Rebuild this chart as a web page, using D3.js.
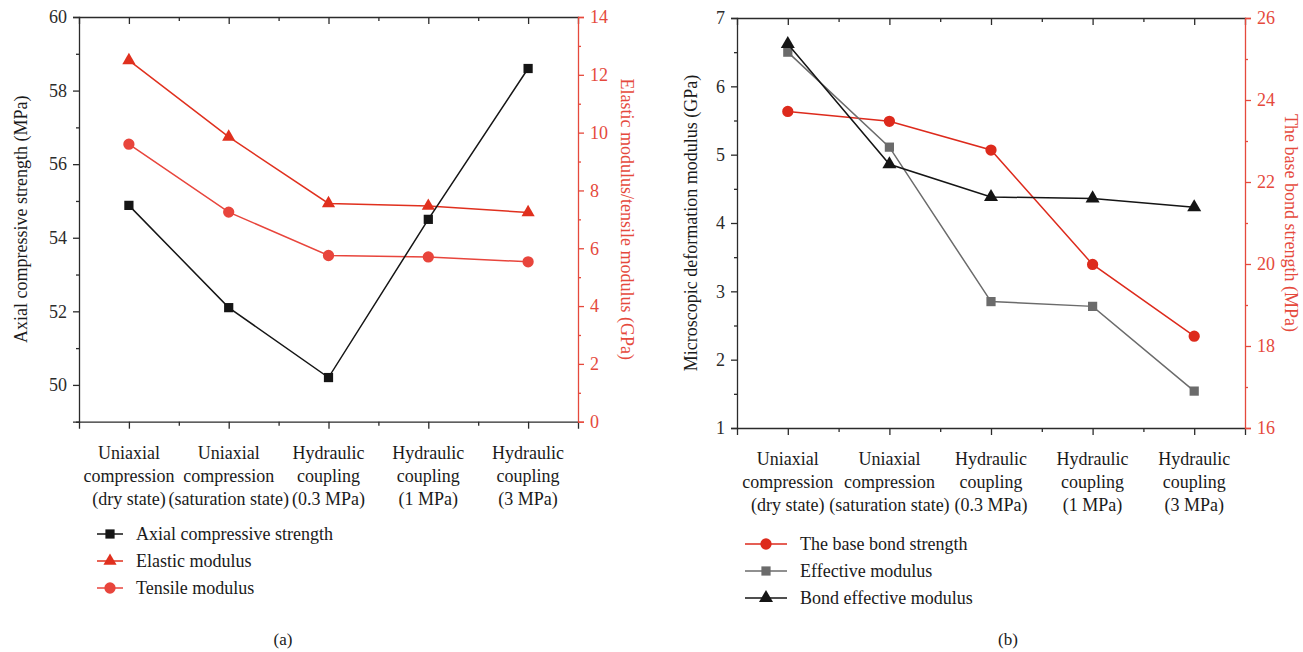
<!DOCTYPE html>
<html>
<head>
<meta charset="utf-8">
<script src="https://cdn.jsdelivr.net/npm/d3@7"></script>
<style>
  body { margin: 0; background: #fff; }
  svg text { font-family: "Liberation Serif", "DejaVu Serif", serif; }
</style>
</head>
<body>
<div id="chart"></div>
<script>
// categories (shared by both panels), one array per label line
var categories = ["dry", "sat", "h03", "h1", "h3"];
var categoryLines = [
  ["Uniaxial", "compression", "(dry state)"],
  ["Uniaxial", "compression", "(saturation state)"],
  ["Hydraulic", "coupling", "(0.3 MPa)"],
  ["Hydraulic", "coupling", "(1 MPa)"],
  ["Hydraulic", "coupling", "(3 MPa)"]
];

// panel (a)
var axialStrength = [54.88, 52.1, 50.2, 54.5, 58.6];     // MPa, left axis
var elasticModulus = [12.5, 9.85, 7.55, 7.46, 7.24];     // GPa, right axis
var tensileModulus = [9.6, 7.25, 5.75, 5.7, 5.53];       // GPa, right axis
var aLeftTicks = [50, 52, 54, 56, 58, 60];
var aRightTicks = [0, 2, 4, 6, 8, 10, 12, 14];

// panel (b)
var baseBondStrength = [23.72, 23.48, 22.78, 19.99, 18.24]; // MPa, right axis
var effectiveModulus = [6.5, 5.11, 2.85, 2.78, 1.54];        // GPa, left axis
var bondEffModulus = [6.62, 4.86, 4.38, 4.36, 4.23];         // GPa, left axis
var bLeftTicks = [1, 2, 3, 4, 5, 6, 7];
var bRightTicks = [16, 18, 20, 22, 24, 26];

var RED = "#e0301e";
var RED_AXIS = "#e5493c";
var FRAME = "#2b2b2b";
var FS = 18;

var svg = d3.select("#chart").append("svg")
  .attr("width", 1303)
  .attr("height", 652);

function drawPanel(cfg) {
  var g = svg.append("g");

  var x = d3.scalePoint().domain(categories).range([cfg.x0, cfg.x1]).padding(0.5);
  var xIdx = d3.scaleLinear().domain([-0.5, categories.length - 0.5]).range([cfg.x0, cfg.x1]);
  var yL = d3.scaleLinear().domain(cfg.leftDomain).range([cfg.y1, cfg.y0]);
  var yR = d3.scaleLinear().domain(cfg.rightDomain).range([cfg.y1, cfg.y0]);

  var majors = d3.range(categories.length);
  var minors = d3.range(0.5, categories.length - 1, 1);

  // top frame with inward ticks
  g.append("g")
    .attr("transform", "translate(0," + cfg.y0 + ")")
    .call(d3.axisBottom(xIdx).tickValues(majors).tickSize(7).tickFormat(""))
    .call(styleAxis, FRAME);
  g.append("g")
    .attr("transform", "translate(0," + cfg.y0 + ")")
    .call(d3.axisBottom(xIdx).tickValues(minors).tickSize(4).tickFormat(""))
    .call(function (s) { s.select(".domain").remove(); })
    .call(styleAxis, FRAME);

  // bottom axis
  g.append("g")
    .attr("transform", "translate(0," + cfg.y1 + ")")
    .call(d3.axisBottom(xIdx).tickValues(majors).tickSize(7).tickFormat(""))
    .call(styleAxis, FRAME);
  g.append("g")
    .attr("transform", "translate(0," + cfg.y1 + ")")
    .call(d3.axisBottom(xIdx).tickValues(minors).tickSize(4).tickFormat(""))
    .call(function (s) { s.select(".domain").remove(); })
    .call(styleAxis, FRAME);

  // category labels
  var lab = g.append("g").selectAll("text")
    .data(categories)
    .enter().append("text")
    .attr("x", function (d) { return x(d); })
    .attr("y", cfg.y1 + 37)
    .attr("text-anchor", "middle")
    .attr("font-size", FS)
    .attr("fill", "#1a1a1a");
  lab.selectAll("tspan")
    .data(function (d, i) { return categoryLines[i]; })
    .enter().append("tspan")
    .attr("x", function () { return x(d3.select(this.parentNode).datum()); })
    .attr("dy", function (d, i) { return i === 0 ? 0 : 23; })
    .text(function (d) { return d; });

  // left axis
  var leftMinor = d3.range(cfg.leftDomain[0], cfg.leftDomain[1] + 0.001, cfg.leftMinorStep)
    .filter(function (v) { return cfg.leftTicks.indexOf(+v.toFixed(2)) < 0; });
  g.append("g")
    .attr("transform", "translate(" + cfg.x0 + ",0)")
    .call(d3.axisLeft(yL).tickValues(cfg.leftTicks).tickSize(6).tickPadding(6).tickFormat(d3.format("d")))
    .call(styleAxis, FRAME);
  g.append("g")
    .attr("transform", "translate(" + cfg.x0 + ",0)")
    .call(d3.axisLeft(yL).tickValues(leftMinor).tickSize(3).tickFormat(""))
    .call(function (s) { s.select(".domain").remove(); })
    .call(styleAxis, FRAME);

  // right axis
  var rightMinor = d3.range(cfg.rightDomain[0], cfg.rightDomain[1] + 0.001, 1)
    .filter(function (v) { return cfg.rightTicks.indexOf(v) < 0; });
  g.append("g")
    .attr("transform", "translate(" + cfg.x1 + ",0)")
    .call(d3.axisRight(yR).tickValues(cfg.rightTicks).tickSize(6).tickPadding(6).tickFormat(d3.format("d")))
    .call(styleAxis, RED_AXIS);
  g.append("g")
    .attr("transform", "translate(" + cfg.x1 + ",0)")
    .call(d3.axisRight(yR).tickValues(rightMinor).tickSize(3).tickFormat(""))
    .call(function (s) { s.select(".domain").remove(); })
    .call(styleAxis, RED_AXIS);

  // axis titles
  g.append("text")
    .attr("transform", "translate(" + cfg.leftTitleX + "," + ((cfg.y0 + cfg.y1) / 2) + ") rotate(-90)")
    .attr("text-anchor", "middle")
    .attr("font-size", FS)
    .attr("fill", "#1a1a1a")
    .text(cfg.leftTitle);
  g.append("text")
    .attr("transform", "translate(" + cfg.rightTitleX + "," + ((cfg.y0 + cfg.y1) / 2) + ") rotate(90)")
    .attr("text-anchor", "middle")
    .attr("font-size", FS)
    .attr("fill", RED_AXIS)
    .text(cfg.rightTitle);

  // series
  cfg.series.forEach(function (s) {
    var y = s.axis === "left" ? yL : yR;
    var line = d3.line()
      .x(function (d, i) { return x(categories[i]); })
      .y(function (d) { return y(d); });
    g.append("path")
      .datum(s.values)
      .attr("d", line)
      .attr("fill", "none")
      .attr("stroke", s.color)
      .attr("stroke-width", 1.5);
    g.selectAll(null)
      .data(s.values)
      .enter().append("path")
      .attr("transform", function (d, i) { return "translate(" + x(categories[i]) + "," + y(d) + ")"; })
      .attr("d", d3.symbol().type(s.symbol).size(s.size))
      .attr("fill", s.color);
  });

  // legend
  var leg = g.append("g").selectAll("g")
    .data(cfg.legendOrder)
    .enter().append("g")
    .attr("transform", function (d, i) { return "translate(0," + (cfg.legendY + i * 27) + ")"; });
  leg.append("line")
    .attr("x1", cfg.legendX0).attr("x2", cfg.legendX1)
    .attr("stroke", function (d) { return d.color; })
    .attr("stroke-width", 1.5);
  leg.append("path")
    .attr("transform", "translate(" + ((cfg.legendX0 + cfg.legendX1) / 2) + ",0)")
    .attr("d", function (d) { return d3.symbol().type(d.symbol).size(d.size)(); })
    .attr("fill", function (d) { return d.color; });
  leg.append("text")
    .attr("x", cfg.legendX1 + 13)
    .attr("dy", "0.33em")
    .attr("font-size", FS)
    .attr("fill", "#1a1a1a")
    .text(function (d) { return d.name; });

  // caption
  g.append("text")
    .attr("x", cfg.captionX)
    .attr("y", 645)
    .attr("text-anchor", "middle")
    .attr("font-size", FS - 1)
    .attr("fill", "#1a1a1a")
    .text(cfg.caption);
}

function styleAxis(sel, color) {
  sel.select(".domain").attr("stroke", color).attr("stroke-width", 1.3);
  sel.selectAll(".tick line").attr("stroke", color).attr("stroke-width", 1.3);
  sel.selectAll(".tick text")
    .attr("fill", color)
    .attr("font-size", FS)
    .attr("font-family", "Liberation Serif, DejaVu Serif, serif");
}

var sAxial = { name: "Axial compressive strength", values: axialStrength, axis: "left",
  color: "#151515", symbol: d3.symbolSquare, size: 85 };
var sElastic = { name: "Elastic modulus", values: elasticModulus, axis: "right",
  color: RED, symbol: d3.symbolTriangle, size: 75 };
var sTensile = { name: "Tensile modulus", values: tensileModulus, axis: "right",
  color: "#e8453c", symbol: d3.symbolCircle, size: 100 };

drawPanel({
  x0: 79, x1: 578, y0: 17, y1: 421.7,
  leftDomain: [49, 60], rightDomain: [0, 14],
  leftTicks: aLeftTicks, rightTicks: aRightTicks, leftMinorStep: 1,
  leftTitle: "Axial compressive strength (MPa)", leftTitleX: 27,
  rightTitle: "Elastic modulus/tensile modulus (GPa)", rightTitleX: 621,
  series: [sTensile, sElastic, sAxial],
  legendOrder: [sAxial, sElastic, sTensile],
  legendX0: 97, legendX1: 123, legendY: 534,
  caption: "(a)", captionX: 283
});

var sBase = { name: "The base bond strength", values: baseBondStrength, axis: "right",
  color: "#dd2a1c", symbol: d3.symbolCircle, size: 100 };
var sEff = { name: "Effective modulus", values: effectiveModulus, axis: "left",
  color: "#6b6b6b", symbol: d3.symbolSquare, size: 85 };
var sBondEff = { name: "Bond effective modulus", values: bondEffModulus, axis: "left",
  color: "#151515", symbol: d3.symbolTriangle, size: 85 };

drawPanel({
  x0: 737, x1: 1245, y0: 18, y1: 428,
  leftDomain: [1, 7], rightDomain: [16, 26],
  leftTicks: bLeftTicks, rightTicks: bRightTicks, leftMinorStep: 0.5,
  leftTitle: "Microscopic deformation modulus (GPa)", leftTitleX: 697,
  rightTitle: "The base bond strength (MPa)", rightTitleX: 1285,
  series: [sBase, sEff, sBondEff],
  legendOrder: [sBase, sEff, sBondEff],
  legendX0: 745, legendX1: 787, legendY: 544,
  caption: "(b)", captionX: 1008
});
</script>
</body>
</html>
